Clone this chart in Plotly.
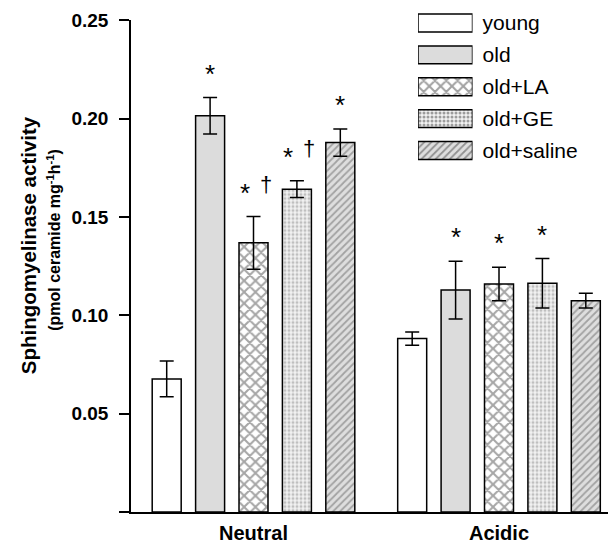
import plotly.graph_objects as go

groups = ["Neutral", "Acidic"]
series = ["young", "old", "old+LA", "old+GE", "old+saline"]

# mean values per series: [Neutral, Acidic]
values = {
    "young":      [0.0677, 0.0882],
    "old":        [0.2015, 0.1129],
    "old+LA":     [0.1369, 0.1160],
    "old+GE":     [0.1642, 0.1163],
    "old+saline": [0.1879, 0.1075],
}
errors = {
    "young":      [0.0091, 0.0034],
    "old":        [0.0093, 0.0147],
    "old+LA":     [0.0134, 0.0085],
    "old+GE":     [0.0043, 0.0126],
    "old+saline": [0.0069, 0.0037],
}
# significance marks: [Neutral, Acidic]
stars = {
    "young":      ["", ""],
    "old":        ["*", "*"],
    "old+LA":     ["*", "*"],
    "old+GE":     ["*", "*"],
    "old+saline": ["*", ""],
}
daggers = {
    "young":      ["", ""],
    "old":        ["", ""],
    "old+LA":     ["†", ""],
    "old+GE":     ["†", ""],
    "old+saline": ["", ""],
}

ytick_vals = [0, 0.05, 0.10, 0.15, 0.20, 0.25]
ytick_text = ["", "0.05", "0.10", "0.15", "0.20", "0.25"]

styles = {
    "young":      dict(color="white", shape="", fg="black", size=8, sol=0.3),
    "old":        dict(color="#dcdcdc", shape="", fg="black", size=8, sol=0.3),
    "old+LA":     dict(color="white", shape="x", fg="#4d4d4d", size=8, sol=0.45),
    "old+GE":     dict(color="#f2f2f2", shape=".", fg="#8c8c8c", size=4, sol=0.45),
    "old+saline": dict(color="#dedede", shape="/", fg="#666666", size=5, sol=0.35),
}

FONT = "Liberation Sans, Arial, sans-serif"
BARGAP = 0.116
fig = go.Figure()

xs = list(range(len(groups)))
for s in series:
    st = styles[s]
    fig.add_trace(go.Bar(
        x=xs, y=values[s], name=s,
        marker=dict(color=st["color"], line=dict(color="black", width=1.5),
                    pattern=dict(shape=st["shape"], fgcolor=st["fg"], size=st["size"],
                                 solidity=st["sol"], fillmode="overlay")),
        error_y=dict(type="data", array=errors[s], visible=True, color="black",
                     thickness=1.5, width=7),
        showlegend=False, xaxis="x", yaxis="y",
    ))

# custom legend swatches
fig.add_trace(go.Bar(
    y=series, x=[1] * len(series), orientation="h", width=0.56,
    marker=dict(color=[styles[s]["color"] for s in series],
                line=dict(color="black", width=1.5),
                pattern=dict(shape=[styles[s]["shape"] for s in series],
                             fgcolor=[styles[s]["fg"] for s in series],
                             size=[styles[s]["size"] for s in series],
                             solidity=[styles[s]["sol"] for s in series],
                             fillmode="overlay")),
    showlegend=False, xaxis="x2", yaxis="y2", hoverinfo="skip",
))

# significance annotations
slot = (1 - BARGAP) / len(series)
annotations = []
for i, s in enumerate(series):
    for g in xs:
        xc = g + (i - (len(series) - 1) / 2) * slot
        top = values[s][g] + errors[s][g]
        has_d = daggers[s][g] != ""
        if stars[s][g]:
            annotations.append(dict(x=xc, y=top, xref="x", yref="y", text=stars[s][g],
                                    showarrow=False, yanchor="bottom",
                                    xshift=-9 if has_d else 0, yshift=7,
                                    font=dict(family=FONT, size=26, color="black")))
        if has_d:
            annotations.append(dict(x=xc, y=top, xref="x", yref="y", text=daggers[s][g],
                                    showarrow=False, yanchor="bottom",
                                    xshift=12, yshift=18,
                                    font=dict(family=FONT, size=22, color="black")))

annotations.append(dict(x=-0.216, y=0.521, xref="paper", yref="paper",
                        text="<b>Sphingomyelinase activity</b>", textangle=-90,
                        showarrow=False, xanchor="center", yanchor="middle",
                        font=dict(family=FONT, size=20.5, color="black")))
annotations.append(dict(x=-0.162, y=0.531, xref="paper", yref="paper",
                        text="<b>(pmol ceramide mg<sup>-1</sup>h<sup>-1</sup>)</b>", textangle=-90,
                        showarrow=False, xanchor="center", yanchor="middle",
                        font=dict(family=FONT, size=16, color="black")))

fig.update_layout(
    width=608, height=545,
    margin=dict(l=131, r=0, t=0, b=33, autoexpand=False),
    paper_bgcolor="white", plot_bgcolor="white",
    barmode="group", bargap=BARGAP, bargroupgap=0.332,
    font=dict(family=FONT, color="black"),
    annotations=annotations,
    xaxis=dict(domain=[0, 1], range=[-0.499, 1.444], tickvals=xs, ticktext=groups,
               showline=True, linecolor="black", linewidth=1.5, ticks="",
               ticklabelstandoff=2, showgrid=False, zeroline=False, automargin=False,
               tickfont=dict(family=FONT, size=20, color="black", weight="bold")),
    yaxis=dict(domain=[0, 0.96], range=[0, 0.25], tickvals=ytick_vals, ticktext=ytick_text,
               showline=True, linecolor="black", linewidth=1.5, ticks="outside",
               ticklen=10, tickwidth=1.5, tickcolor="black", ticklabelstandoff=7,
               showgrid=False, zeroline=False, automargin=False,
               tickfont=dict(family=FONT, size=19, color="black", weight="bold")),
    xaxis2=dict(domain=[0.6017, 0.716], range=[0, 1], anchor="y2", visible=False,
                fixedrange=True, automargin=False),
    yaxis2=dict(domain=[0.6748, 0.9863], anchor="x2", type="category",
                categoryorder="array", categoryarray=series, autorange="reversed",
                side="right", showline=False, ticks="", showgrid=False, zeroline=False,
                ticklabelstandoff=9, automargin=False,
                tickfont=dict(family=FONT, size=21, color="black")),
)

fig.write_html("out.html", config={"displayModeBar": False},
               post_script="document.body.style.margin='0';")
